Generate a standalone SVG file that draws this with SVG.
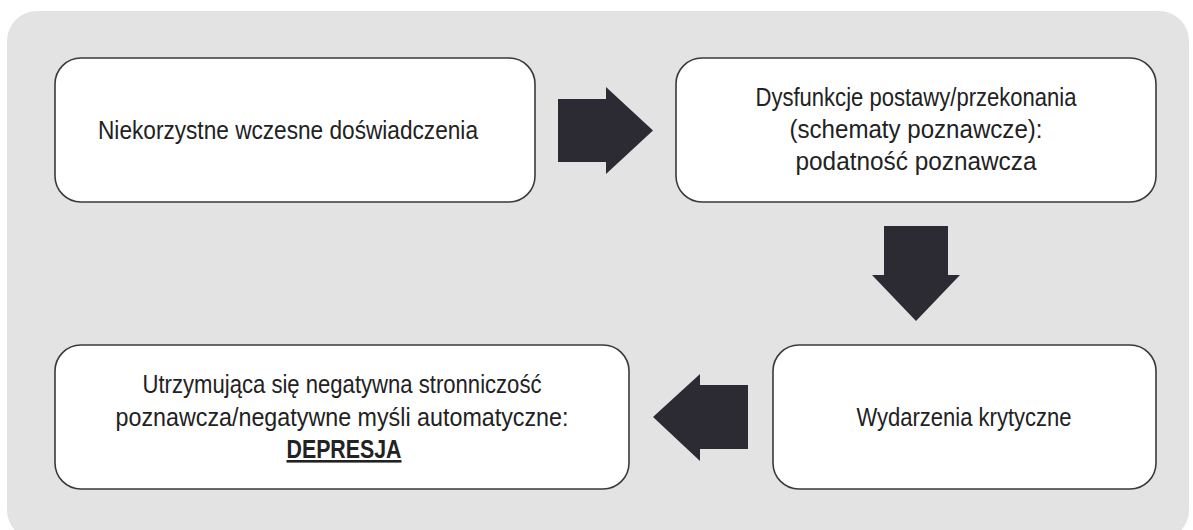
<svg xmlns="http://www.w3.org/2000/svg" width="1193" height="530" viewBox="0 0 1193 530">
<style>
  .panel { fill: #e3e3e3; }
  .box { fill: #ffffff; stroke: #3a3a3a; stroke-width: 1.6; }
  .lbl { font-family: "Liberation Sans", Arial, sans-serif; font-size: 26px; fill: #222222; text-anchor: middle; }
  .bold { font-weight: bold; text-decoration: underline; }
  .arrow { fill: #2c2b34; }
</style>
<rect width="1193" height="530" fill="#ffffff"/>
<rect class="panel" x="7" y="11" width="1182" height="529" rx="30" ry="30"/>

<g id="connectors">
  <polygon class="arrow" points="558,99 606,99 606,87 653,130.5 606,174 606,162 558,162"/>
  <polygon class="arrow" points="884,226 948,226 948,275 960,275 916,321 872,275 884,275"/>
  <polygon class="arrow" points="748,385 700,385 700,374 653,417 700,461 700,449 748,449"/>
</g>

<g id="node-niekorzystne">
  <rect class="box" x="55" y="58" width="480" height="144" rx="26" ry="26"/>
  <text class="lbl" x="288" y="139" textLength="380" lengthAdjust="spacingAndGlyphs">Niekorzystne wczesne doświadczenia</text>
</g>

<g id="node-dysfunkcje">
  <rect class="box" x="676" y="58" width="480" height="144" rx="26" ry="26"/>
  <text class="lbl" x="916" y="106" textLength="321" lengthAdjust="spacingAndGlyphs">Dysfunkcje postawy/przekonania</text>
  <text class="lbl" x="916" y="138" textLength="253" lengthAdjust="spacingAndGlyphs">(schematy poznawcze):</text>
  <text class="lbl" x="916" y="170" textLength="241" lengthAdjust="spacingAndGlyphs">podatność poznawcza</text>
</g>

<g id="node-wydarzenia">
  <rect class="box" x="773" y="345" width="383" height="144" rx="26" ry="26"/>
  <text class="lbl" x="964" y="426" textLength="215" lengthAdjust="spacingAndGlyphs">Wydarzenia krytyczne</text>
</g>

<g id="node-depresja">
  <rect class="box" x="55" y="345" width="574" height="144" rx="26" ry="26"/>
  <text class="lbl" x="342" y="393" textLength="399" lengthAdjust="spacingAndGlyphs">Utrzymująca się negatywna stronniczość</text>
  <text class="lbl" x="342" y="426" textLength="453" lengthAdjust="spacingAndGlyphs">poznawcza/negatywne myśli automatyczne:</text>
  <text class="lbl bold" x="344" y="458" textLength="115" lengthAdjust="spacingAndGlyphs">DEPRESJA</text>
</g>
</svg>
